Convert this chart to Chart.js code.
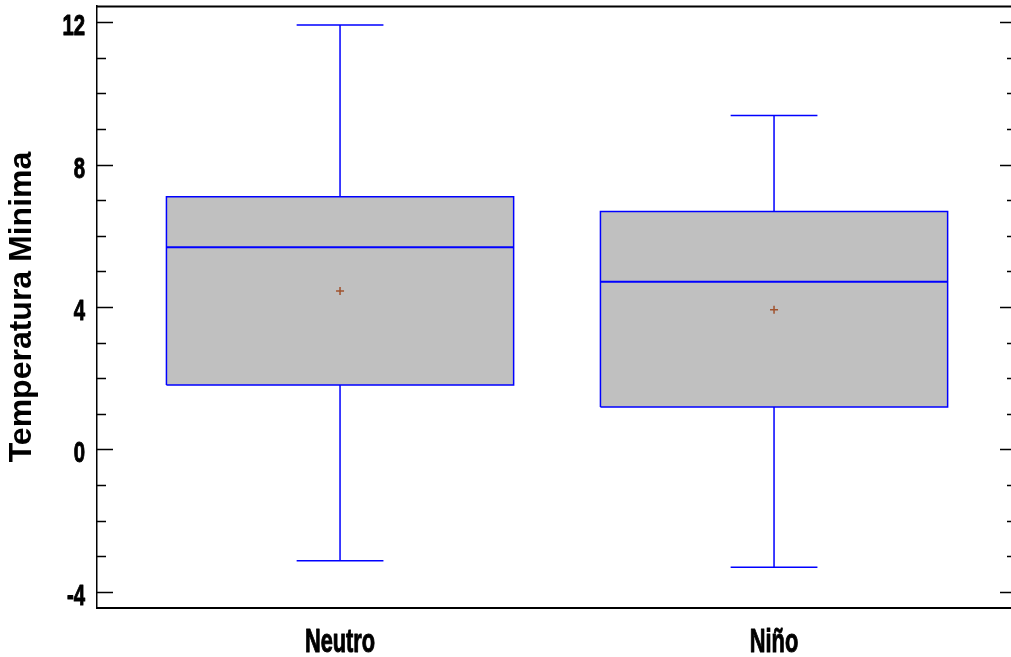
<!DOCTYPE html>
<html>
<head>
<meta charset="utf-8">
<title>Temperatura Minima</title>
<script src="https://cdn.jsdelivr.net/npm/chart.js@4.4.1/dist/chart.umd.min.js"></script>
<style>
  html, body { margin: 0; padding: 0; background: #ffffff; }
  canvas { display: block; }
</style>
</head>
<body>
<canvas id="chart" width="1011" height="657"></canvas>
<script>
// Groups and their five-number summaries (plus mean)
const categories = ['Neutro', 'Niño'];
const positions  = [1, 2];
const whiskerLow  = [-3.13, -3.31];
const quartile1   = [1.81, 1.19];
const medians     = [5.68, 4.71];
const quartile3   = [7.10, 6.68];
const whiskerHigh = [11.92, 9.38];
const means       = [4.45, 3.92];

// Axis ticks
const yMajorTicks = [-4, 0, 4, 8, 12];
const yTickLabels = ['-4', '0', '4', '8', '12'];
const yMinorTicks = [-3, -2, -1, 1, 2, 3, 5, 6, 7, 9, 10, 11];

const BOX_HALF = 0.40;
const CAP_HALF = 0.10;
const BLUE = '#0000ff';
const FILL = '#c0c0c0';
const MEAN_COLOR = '#a0522d';
const LABEL_FAMILY = "'Liberation Sans', Arial, sans-serif";

const datasets = [];
positions.forEach((x, i) => {
  // box body (closed rectangle, filled as a shape)
  datasets.push({
    data: [
      { x: x - BOX_HALF, y: quartile1[i] },
      { x: x + BOX_HALF, y: quartile1[i] },
      { x: x + BOX_HALF, y: quartile3[i] },
      { x: x - BOX_HALF, y: quartile3[i] },
      { x: x - BOX_HALF, y: quartile1[i] }
    ],
    showLine: true, fill: 'shape', backgroundColor: FILL,
    borderColor: BLUE, borderWidth: 1.5, pointRadius: 0, order: 3
  });
  // upper whisker with cap
  datasets.push({
    data: [
      { x: x, y: quartile3[i] },
      { x: x, y: whiskerHigh[i] },
      { x: x - CAP_HALF, y: whiskerHigh[i] },
      { x: x + CAP_HALF, y: whiskerHigh[i] }
    ],
    showLine: true, fill: false, borderColor: BLUE, borderWidth: 1.5,
    pointRadius: 0, order: 2
  });
  // lower whisker with cap
  datasets.push({
    data: [
      { x: x, y: quartile1[i] },
      { x: x, y: whiskerLow[i] },
      { x: x - CAP_HALF, y: whiskerLow[i] },
      { x: x + CAP_HALF, y: whiskerLow[i] }
    ],
    showLine: true, fill: false, borderColor: BLUE, borderWidth: 1.5,
    pointRadius: 0, order: 2
  });
  // median line
  datasets.push({
    data: [
      { x: x - BOX_HALF, y: medians[i] },
      { x: x + BOX_HALF, y: medians[i] }
    ],
    showLine: true, fill: false, borderColor: BLUE, borderWidth: 2,
    pointRadius: 0, order: 1
  });
});
// means
datasets.push({
  data: positions.map((x, i) => ({ x: x, y: means[i] })),
  showLine: false, pointStyle: 'cross', pointRadius: 4,
  borderColor: MEAN_COLOR, borderWidth: 1.5, order: 0
});

// condensed heavy label text, squeezed horizontally
function narrowText(ctx, text, x, y, size, squeeze, align) {
  ctx.save();
  ctx.translate(x, y);
  ctx.scale(squeeze, 1);
  ctx.font = 'bold ' + size + 'px ' + LABEL_FAMILY;
  ctx.textAlign = align;
  ctx.textBaseline = 'alphabetic';
  ctx.fillStyle = '#000000';
  ctx.strokeStyle = '#000000';
  ctx.lineWidth = 1;
  ctx.lineJoin = 'round';
  ctx.fillText(text, 0, 0);
  ctx.strokeText(text, 0, 0);
  ctx.restore();
}

// frame top line, inward ticks on both sides, tick labels
const framePlugin = {
  id: 'frame',
  afterDraw(chart) {
    const { ctx, chartArea, scales } = chart;
    const y = scales.y;
    const x = scales.x;
    const rightAxis = chartArea.right + 5;
    ctx.save();
    ctx.strokeStyle = '#000000';
    ctx.lineWidth = 2;
    ctx.beginPath();
    ctx.moveTo(chartArea.left, chartArea.top + 0.5);
    ctx.lineTo(chartArea.right, chartArea.top + 0.5);
    ctx.stroke();
    ctx.lineWidth = 1.5;
    const tick = (v, len) => {
      const py = Math.round(y.getPixelForValue(v)) + 0.5;
      ctx.beginPath();
      ctx.moveTo(chartArea.left, py);
      ctx.lineTo(chartArea.left + len, py);
      ctx.moveTo(rightAxis, py);
      ctx.lineTo(rightAxis - len, py);
      ctx.stroke();
    };
    yMajorTicks.forEach(v => tick(v, 16));
    yMinorTicks.forEach(v => tick(v, 9));
    ctx.restore();

    yMajorTicks.forEach((v, i) => {
      const py = y.getPixelForValue(v);
      narrowText(ctx, yTickLabels[i], chartArea.left - 12, py + 13, 29, 0.7, 'right');
    });
    positions.forEach((v, i) => {
      const px = x.getPixelForValue(v);
      narrowText(ctx, categories[i], px, chartArea.bottom + 44, 33, 0.66, 'center');
    });
  }
};

new Chart(document.getElementById('chart'), {
  type: 'scatter',
  data: { datasets },
  plugins: [framePlugin],
  options: {
    responsive: false,
    animation: false,
    devicePixelRatio: 1,
    layout: { autoPadding: false, padding: { top: 6, right: 0, left: 0, bottom: 0 } },
    plugins: { legend: { display: false }, tooltip: { enabled: false } },
    scales: {
      x: {
        type: 'linear',
        min: 0.44,
        max: 2.546,
        grid: { display: false, drawTicks: false },
        border: { display: true, color: '#000000', width: 2 },
        afterBuildTicks(scale) { scale.ticks = positions.map(v => ({ value: v })); },
        afterFit(scale) {
          scale.height = 49;
          scale.paddingLeft = 0;
          scale.paddingRight = 0;
        },
        ticks: { display: false }
      },
      y: {
        type: 'linear',
        min: -4.456,
        max: 12.456,
        grid: { display: false, drawTicks: false },
        border: { display: true, color: '#000000', width: 1.5 },
        afterBuildTicks(scale) { scale.ticks = yMajorTicks.map(v => ({ value: v })); },
        afterFit(scale) {
          scale.width = 97;
          scale.paddingTop = 0;
          scale.paddingBottom = 0;
        },
        ticks: { display: false },
        title: {
          display: true,
          text: 'Temperatura Minima',
          color: '#000000',
          padding: { top: 4, bottom: 0 },
          font: { family: LABEL_FAMILY, size: 32, weight: 'bold', lineHeight: 1.15 }
        }
      }
    }
  }
});
</script>
</body>
</html>
